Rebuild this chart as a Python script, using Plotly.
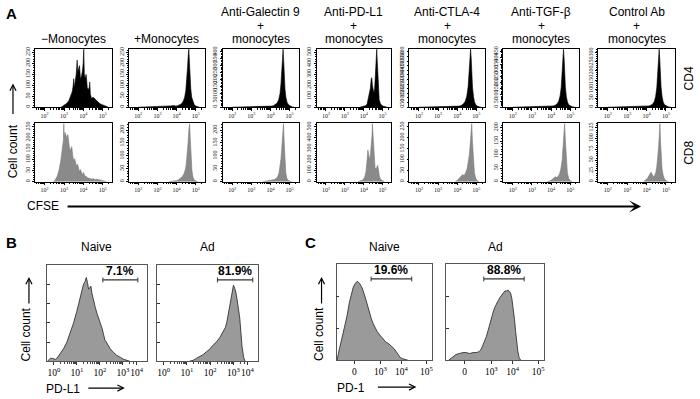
import math
import plotly.graph_objects as go

# ---------------- Panel A : CFSE dilution (x = log10 CFSE, y = cell count) ----------------
A_TITLES = [["\u2212Monocytes"], ["+Monocytes"], ["Anti-Galectin 9", "+", "monocytes"],
            ["Anti-PD-L1", "+", "monocytes"], ["Anti-CTLA-4", "+", "monocytes"],
            ["Anti-TGF-\u03b2", "+", "monocytes"], ["Control Ab", "+", "monocytes"]]
A_ROW_LABELS = ["CD4", "CD8"]
A_XTICKS = [2, 3, 4, 5]
A_XTICKTEXT = ["10<sup>2</sup>", "10<sup>3</sup>", "10<sup>4</sup>", "10<sup>5</sup>"]

# CD4 row
CD4_NOMONO_X = [2.85, 2.95, 3.05, 3.15, 3.25, 3.35, 3.42, 3.47, 3.5, 3.53, 3.58, 3.63, 3.68, 3.71, 3.75, 3.8, 3.85, 3.9, 3.95, 3.99, 4.02, 4.05, 4.1, 4.14, 4.17, 4.2, 4.25, 4.3, 4.33, 4.36, 4.42, 4.5, 4.55, 4.62, 4.7, 4.8, 4.9, 5.0, 5.1, 5.2, 5.3]
CD4_NOMONO_Y = [0, 5, 10, 18, 30, 50, 70, 95, 130, 90, 120, 150, 215, 160, 175, 190, 130, 140, 165, 200, 265, 150, 130, 150, 125, 90, 80, 90, 115, 60, 40, 45, 42, 35, 28, 20, 14, 10, 6, 3, 0]
CD4_MONO_X = [2.0, 2.5, 3.0, 3.3, 3.5, 3.7, 3.85, 3.95, 4.05, 4.15, 4.25, 4.35, 4.42, 4.48, 4.53, 4.57, 4.61, 4.64, 4.67, 4.7, 4.74, 4.79, 4.85, 4.92, 5.0, 5.1, 5.2]
CD4_MONO_Y = [0, 1, 2, 3, 4, 6, 8, 5, 7, 10, 15, 28, 45, 75, 120, 180, 240, 265, 210, 140, 85, 45, 25, 12, 5, 2, 0]
CD4_GAL9_X = [2.0, 2.6, 3.0, 3.4, 3.7, 3.9, 4.05, 4.15, 4.25, 4.35, 4.43, 4.5, 4.55, 4.6, 4.63, 4.66, 4.69, 4.72, 4.76, 4.81, 4.87, 4.95, 5.05, 5.15, 5.25]
CD4_GAL9_Y = [0, 1, 2, 3, 4, 6, 8, 10, 18, 30, 55, 100, 170, 280, 380, 420, 340, 220, 130, 70, 35, 16, 7, 2, 0]
CD4_PDL1_X = [3.8, 3.95, 4.05, 4.12, 4.18, 4.25, 4.3, 4.35, 4.4, 4.43, 4.46, 4.5, 4.54, 4.58, 4.62, 4.66, 4.69, 4.72, 4.75, 4.78, 4.82, 4.88, 4.95, 5.05, 5.15, 5.25]
CD4_PDL1_Y = [0, 4, 8, 15, 30, 80, 130, 170, 260, 270, 200, 150, 130, 170, 300, 440, 530, 420, 260, 140, 70, 35, 18, 8, 3, 0]
CD4_CTLA4_X = [2.0, 2.6, 3.1, 3.5, 3.8, 4.0, 4.12, 4.22, 4.32, 4.42, 4.5, 4.57, 4.62, 4.66, 4.7, 4.73, 4.76, 4.8, 4.85, 4.9, 4.97, 5.05, 5.15, 5.25]
CD4_CTLA4_Y = [0, 2, 3, 4, 6, 8, 12, 20, 35, 65, 120, 220, 360, 500, 630, 540, 380, 220, 120, 60, 28, 12, 4, 0]
CD4_TGFB_X = [2.0, 2.6, 3.1, 3.5, 3.8, 4.0, 4.12, 4.22, 4.32, 4.4, 4.47, 4.53, 4.58, 4.62, 4.65, 4.68, 4.71, 4.75, 4.8, 4.86, 4.93, 5.02, 5.12, 5.25]
CD4_TGFB_Y = [0, 2, 3, 4, 5, 7, 10, 16, 28, 50, 90, 160, 260, 380, 470, 400, 280, 160, 85, 40, 18, 8, 3, 0]
CD4_CTRL_X = [2.0, 2.6, 3.1, 3.5, 3.8, 4.0, 4.12, 4.22, 4.32, 4.4, 4.47, 4.53, 4.58, 4.62, 4.65, 4.68, 4.71, 4.75, 4.8, 4.86, 4.93, 5.02, 5.12, 5.25]
CD4_CTRL_Y = [0, 1, 2, 3, 4, 5, 7, 11, 18, 32, 60, 110, 180, 260, 320, 270, 190, 110, 60, 28, 13, 6, 2, 0]

# CD8 row
CD8_NOMONO_X = [2.45, 2.55, 2.65, 2.75, 2.84, 2.92, 2.97, 2.99, 3.01, 3.05, 3.1, 3.15, 3.2, 3.25, 3.3, 3.35, 3.4, 3.45, 3.5, 3.55, 3.6, 3.65, 3.7, 3.75, 3.8, 3.85, 3.9, 3.95, 4.0, 4.05, 4.1, 4.15, 4.2, 4.3, 4.4, 4.5, 4.6, 4.7, 4.8, 4.9, 5.0, 5.1, 5.2]
CD8_NOMONO_Y = [0, 8, 25, 55, 100, 150, 190, 265, 200, 225, 210, 200, 215, 175, 140, 150, 160, 120, 95, 105, 85, 70, 80, 65, 45, 55, 38, 30, 42, 30, 22, 25, 18, 15, 12, 13, 10, 11, 9, 7, 5, 2, 0]
CD8_MONO_X = [3.6, 3.85, 4.0, 4.1, 4.2, 4.3, 4.38, 4.45, 4.5, 4.55, 4.6, 4.64, 4.68, 4.72, 4.76, 4.8, 4.85, 4.9, 5.0, 5.1]
CD8_MONO_Y = [0, 2, 4, 7, 12, 20, 30, 45, 65, 100, 150, 200, 225, 160, 90, 45, 20, 8, 3, 0]
CD8_GAL9_X = [3.6, 3.85, 4.0, 4.1, 4.2, 4.3, 4.38, 4.45, 4.5, 4.55, 4.6, 4.64, 4.68, 4.72, 4.76, 4.8, 4.85, 4.9, 5.0, 5.1]
CD8_GAL9_Y = [0, 3, 6, 8, 8, 12, 20, 35, 55, 90, 140, 195, 225, 150, 80, 35, 15, 6, 2, 0]
CD8_PDL1_X = [3.7, 3.85, 3.95, 4.05, 4.12, 4.18, 4.22, 4.26, 4.3, 4.35, 4.4, 4.44, 4.46, 4.49, 4.52, 4.56, 4.6, 4.65, 4.7, 4.74, 4.78, 4.83, 4.9, 5.0, 5.1]
CD8_PDL1_Y = [0, 5, 15, 40, 90, 200, 290, 250, 200, 240, 330, 420, 530, 440, 300, 180, 130, 110, 140, 150, 110, 50, 20, 6, 0]
CD8_CTLA4_X = [3.9, 4.0, 4.1, 4.2, 4.28, 4.36, 4.44, 4.52, 4.58, 4.63, 4.68, 4.72, 4.76, 4.8, 4.85, 4.9, 4.97, 5.05, 5.15]
CD8_CTLA4_Y = [0, 5, 15, 25, 32, 28, 40, 60, 90, 120, 170, 230, 265, 180, 90, 40, 15, 4, 0]
CD8_TGFB_X = [3.8, 3.95, 4.05, 4.15, 4.23, 4.3, 4.38, 4.45, 4.52, 4.58, 4.63, 4.67, 4.71, 4.75, 4.8, 4.85, 4.92, 5.0, 5.1]
CD8_TGFB_Y = [0, 3, 8, 14, 18, 15, 20, 30, 50, 80, 130, 180, 215, 150, 80, 35, 12, 3, 0]
CD8_CTRL_X = [3.85, 3.95, 4.05, 4.15, 4.23, 4.3, 4.36, 4.42, 4.48, 4.53, 4.58, 4.62, 4.66, 4.69, 4.72, 4.76, 4.8, 4.86, 4.93, 5.02, 5.12]
CD8_CTRL_Y = [0, 3, 8, 16, 22, 16, 12, 14, 22, 35, 55, 80, 110, 135, 95, 55, 30, 14, 6, 2, 0]

CD4_YTICKS = [[0, 50, 100, 150, 200, 250], [0, 50, 100, 150, 200, 250],
              [0, 50, 100, 150, 200, 250, 300, 350, 400], [0, 100, 200, 300, 400, 500],
              [0, 50, 100, 150, 200, 250, 300, 350, 400, 450, 500, 550, 600],
              [0, 50, 100, 150, 200, 250, 300, 350, 400, 450], [0, 50, 100, 150, 200, 250, 300]]
CD8_YTICKS = [[0, 50, 100, 150, 200, 250], [0, 50, 100, 150, 200], [0, 50, 100, 150, 200],
              [0, 100, 200, 300, 400, 500], [0, 50, 100, 150, 200, 250], [0, 50, 100, 150, 200],
              [0, 25, 50, 75, 100, 125]]

# ---------------- Panel B : PD-L1 on monocytes (x in decades, y = % of max) ----------------
B_TITLES = ["Naive", "Ad"]
B_XTICKS = [0, 1, 2, 3, 3.6]
B_XTICKTEXT = ["10<sup>0</sup>", "10<sup>1</sup>", "10<sup>2</sup>", "10<sup>3</sup>", "10<sup>4</sup>"]
B_NAIVE_X = [-0.28, -0.15, -0.05, 0.06, 0.13, 0.28, 0.42, 0.57, 0.72, 0.86, 1.0, 1.15, 1.29, 1.36, 1.41, 1.46, 1.51, 1.56, 1.61, 1.66, 1.73, 1.8, 1.87, 1.95, 2.02, 2.1, 2.16, 2.22, 2.28, 2.35, 2.45, 2.6, 2.74, 2.9, 3.03, 3.18, 3.3]
B_NAIVE_Y = [0, 3, 3, 2, 3, 8, 13, 20, 30, 40, 52, 65, 80, 83, 87, 82, 75, 76, 78, 70, 62, 56, 50, 45, 40, 34, 28, 22, 20, 17, 13, 9, 6, 4, 2, 1, 0]
B_AD_X = [1.1, 1.27, 1.4, 1.55, 1.7, 1.84, 1.95, 2.06, 2.2, 2.3, 2.42, 2.55, 2.65, 2.71, 2.78, 2.86, 2.93, 3.0, 3.05, 3.1, 3.15, 3.21, 3.27, 3.32, 3.37, 3.44, 3.5]
B_AD_Y = [0, 1, 3, 5, 7, 10, 12, 15, 18, 21, 25, 30, 35, 40, 50, 60, 70, 79, 76, 72, 65, 57, 45, 30, 15, 4, 0]
B_PCT = ["7.1%", "81.9%"]
B_GATES = [(2.13, 3.65), (2.31, 3.83)]

# ---------------- Panel C : PD-1 (biexponential display units) ----------------
C_TITLES = ["Naive", "Ad"]
C_XTICKS = [0, 1, 1.8, 2.75]
C_XTICKTEXT = ["0", "10<sup>3</sup>", "10<sup>4</sup>", "10<sup>5</sup>"]
C_NAIVE_X = [-0.66, -0.64, -0.57, -0.48, -0.38, -0.28, -0.19, -0.1, -0.04, 0.04, 0.11, 0.2, 0.3, 0.41, 0.5, 0.57, 0.65, 0.72, 0.8, 0.87, 0.98, 1.09, 1.2, 1.32, 1.45, 1.52, 1.6, 1.68, 1.75, 1.85, 1.95, 2.05]
C_NAIVE_Y = [0, 3, 12, 22, 33, 46, 60, 70, 76, 80, 82, 80, 75, 66, 57, 50, 43, 38, 33, 30, 26, 22, 19, 17, 14, 12, 9, 6, 3, 1.5, 0.5, 0]
C_AD_X = [-0.6, -0.5, -0.4, -0.32, -0.2, -0.06, 0.06, 0.19, 0.32, 0.44, 0.55, 0.63, 0.72, 0.82, 0.92, 1.01, 1.07, 1.13, 1.2, 1.26, 1.32, 1.38, 1.45, 1.51, 1.57, 1.63, 1.68, 1.72, 1.77, 1.82, 1.87, 1.91, 1.95, 1.99, 2.04, 2.1]
C_AD_Y = [0, 2, 4, 6, 7, 8, 8, 7, 8, 8, 9, 12, 18, 25, 35, 45, 50, 55, 58, 62, 65, 68, 70, 72, 72, 73, 71, 70, 64, 55, 42, 30, 18, 10, 3, 0]
C_PCT = ["19.6%", "88.8%"]
C_GATES = [(0.64, 2.19), (0.72, 2.23)]

# ---------------- figure ----------------
W, H = 700, 399
FONT = "Liberation Sans, Arial, Helvetica, sans-serif"
SERIF = "Liberation Serif, Times New Roman, serif"


def px(x):
    return x / W


def py(y):
    return 1 - y / H


fig = go.Figure()
layout = dict(width=W, height=H, margin=dict(l=0, r=0, t=0, b=0), autosize=False,
              paper_bgcolor="white", plot_bgcolor="white", showlegend=False,
              font=dict(family=FONT, color="black"))
annotations = []
shapes = []

A_BOX_X = [(35, 112), (129, 205), (223, 299), (317, 392), (410, 486), (504, 580), (599, 676)]
A_ROW_Y = [(47, 106), (122, 181)]
A_ROWS = [
    list(zip([CD4_NOMONO_X, CD4_MONO_X, CD4_GAL9_X, CD4_PDL1_X, CD4_CTLA4_X, CD4_TGFB_X, CD4_CTRL_X],
             [CD4_NOMONO_Y, CD4_MONO_Y, CD4_GAL9_Y, CD4_PDL1_Y, CD4_CTLA4_Y, CD4_TGFB_Y, CD4_CTRL_Y],
             CD4_YTICKS)),
    list(zip([CD8_NOMONO_X, CD8_MONO_X, CD8_GAL9_X, CD8_PDL1_X, CD8_CTLA4_X, CD8_TGFB_X, CD8_CTRL_X],
             [CD8_NOMONO_Y, CD8_MONO_Y, CD8_GAL9_Y, CD8_PDL1_Y, CD8_CTLA4_Y, CD8_TGFB_Y, CD8_CTRL_Y],
             CD8_YTICKS)),
]
A_MINOR = [math.log10(k * 10 ** d) for d in range(1, 6) for k in range(2, 10)
           if 1.5 < math.log10(k * 10 ** d) < 5.47]

k = 0
for r, row in enumerate(A_ROWS):
    top, bot = A_ROW_Y[r]
    fill = "black" if r == 0 else "#8a8a8a"
    lcol = "black" if r == 0 else "#7c7c7c"
    for c, (xs, ys, yt) in enumerate(row):
        k += 1
        sfx = "" if k == 1 else str(k)
        l, rr = A_BOX_X[c]
        fig.add_trace(go.Scatter(x=xs, y=ys, mode="lines", fill="tozeroy", fillcolor=fill,
                                 line=dict(color=lcol, width=0.6), xaxis="x" + sfx, yaxis="y" + sfx,
                                 hoverinfo="skip"))
        step = yt[1] - yt[0]
        layout["xaxis" + sfx] = dict(domain=[px(l), px(rr)], anchor="y" + sfx, range=[1.5, 5.47],
                                     tickmode="array", tickvals=A_XTICKS, ticktext=A_XTICKTEXT, tickangle=0,
                                     ticks="outside", ticklen=2.5, tickwidth=0.6, tickcolor="black",
                                     tickfont=dict(size=6, family=SERIF, color="#222"), showline=True, mirror=True,
                                     linecolor="black", linewidth=0.8, showgrid=False, zeroline=False,
                                     minor=dict(tickmode="array", tickvals=A_MINOR, ticks="outside",
                                                ticklen=1.5, tickwidth=0.5, tickcolor="black"))
        layout["yaxis" + sfx] = dict(domain=[py(bot), py(top)], anchor="x" + sfx,
                                     range=[0, max(ys) * 1.01], tickmode="array", tickvals=yt,
                                     ticktext=[str(v) for v in yt], tickangle=-90,
                                     ticks="outside", ticklen=2, tickwidth=0.6, tickcolor="black",
                                     tickfont=dict(size=6, family=SERIF, color="#222"), showline=True, mirror=True,
                                     linecolor="black", linewidth=0.8, showgrid=False, zeroline=False,
                                     minor=dict(dtick=step / 5, tick0=0, ticks="outside", ticklen=1,
                                                tickwidth=0.4, tickcolor="black"))

# titles for A
A_CENTERS = [(a + b) / 2 for a, b in A_BOX_X]
for c, lines in enumerate(A_TITLES):
    ys_ = [37] if len(lines) == 1 else [10, 24, 37]
    for t, yy in zip(lines, ys_):
        annotations.append(dict(text=t, x=px(A_CENTERS[c]), y=py(yy), xref="paper", yref="paper",
                                showarrow=False, xanchor="center", yanchor="middle",
                                font=dict(size=12, family=FONT)))
for t, yy in zip(A_ROW_LABELS, [77, 152]):
    annotations.append(dict(text=t, x=px(690), y=py(yy), xref="paper", yref="paper", showarrow=False,
                            textangle=-90, xanchor="center", yanchor="middle", font=dict(size=12)))

# panels B and C
BC = [
    (B_NAIVE_X, B_NAIVE_Y, (47, 147), (265, 362), [-0.3, 4.04], B_XTICKS, B_XTICKTEXT, [0, 20, 40, 60, 80], B_TITLES[0], B_PCT[0], B_GATES[0]),
    (B_AD_X, B_AD_Y, (157, 258), (265, 362), [-0.3, 4.04], B_XTICKS, B_XTICKTEXT, [0, 20, 40, 60, 80], B_TITLES[1], B_PCT[1], B_GATES[1]),
    (C_NAIVE_X, C_NAIVE_Y, (337, 433), (264, 361), [-0.68, 2.98], C_XTICKS, C_XTICKTEXT, [0, 33.3, 66.7], C_TITLES[0], C_PCT[0], C_GATES[0]),
    (C_AD_X, C_AD_Y, (447, 545), (264, 361), [-0.68, 2.98], C_XTICKS, C_XTICKTEXT, [0, 33.3, 66.7], C_TITLES[1], C_PCT[1], C_GATES[1]),
]
B_MINOR = [math.log10(m) + d for d in range(0, 4) for m in range(2, 10) if math.log10(m) + d < 3.55]
for i, (xs, ys, (l, rr), (top, bot), xr, tv, tt, ytv, title, pct, gate) in enumerate(BC):
    k += 1
    sfx = str(k)
    fig.add_trace(go.Scatter(x=xs, y=ys, mode="lines", fill="tozeroy", fillcolor="#9a9a9a",
                             line=dict(color="#333333", width=0.9), xaxis="x" + sfx, yaxis="y" + sfx,
                             hoverinfo="skip"))
    minor = dict(tickmode="array", tickvals=B_MINOR, ticks="outside", ticklen=1.5, tickwidth=0.5,
                 tickcolor="#444") if i < 2 else dict(ticks="")
    layout["xaxis" + sfx] = dict(domain=[px(l), px(rr)], anchor="y" + sfx, range=xr, tickmode="array",
                                 tickvals=tv, ticktext=tt, tickangle=0, ticks="outside", ticklen=2.5,
                                 tickwidth=0.6, tickcolor="#333", tickfont=dict(size=9.5, family=SERIF),
                                 showline=True, mirror=True, linecolor="#555", linewidth=0.8,
                                 showgrid=False, zeroline=False, minor=minor)
    layout["yaxis" + sfx] = dict(domain=[py(bot), py(top)], anchor="x" + sfx, range=[0, 100],
                                 tickmode="array", tickvals=ytv, showticklabels=False, ticks="inside",
                                 ticklen=3, tickwidth=0.6, tickcolor="#333", showline=True, mirror=True,
                                 linecolor="#555", linewidth=0.8, showgrid=False, zeroline=False)
    annotations.append(dict(text=title, x=px((l + rr) / 2), y=py(247), xref="paper", yref="paper",
                            showarrow=False, xanchor="center", yanchor="middle", font=dict(size=12)))
    # gate bracket
    g0, g1 = gate
    yb = 0.845
    shapes.append(dict(type="line", xref="x" + sfx, yref="y" + sfx + " domain", x0=g0, x1=g1, y0=yb, y1=yb,
                       line=dict(color="#333", width=1.2)))
    for gx in (g0, g1):
        shapes.append(dict(type="line", xref="x" + sfx, yref="y" + sfx + " domain", x0=gx, x1=gx,
                           y0=yb - 0.025, y1=yb + 0.025, line=dict(color="#333", width=1)))
    annotations.append(dict(text="<b>" + pct + "</b>", x=(g0 + g1) / 2, y=0.935, xref="x" + sfx,
                            yref="y" + sfx + " domain", showarrow=False, xanchor="center",
                            yanchor="middle", font=dict(size=12)))

# panel letters and axis captions
for t, x, y in [("A", 12, 12), ("B", 12, 242), ("C", 311, 242)]:
    annotations.append(dict(text="<b>" + t + "</b>", x=px(x), y=py(y), xref="paper", yref="paper",
                            showarrow=False, xanchor="center", yanchor="middle", font=dict(size=15)))
for t, x, y, ang in [("Cell count", 12.5, 150, -90), ("CFSE", 43, 206, 0), ("Cell count", 27, 335, -90),
                     ("PD-L1", 63, 390, 0), ("Cell count", 320, 335, -90), ("PD-1", 352, 389, 0)]:
    annotations.append(dict(text=t, x=px(x), y=py(y), xref="paper", yref="paper", showarrow=False,
                            textangle=ang, xanchor="center", yanchor="middle", font=dict(size=12)))

# arrows (head position, tail offset in px)
for hx, hy, ax, ay, head, wdt in [(642, 206, -575, 0, 3, 2), (13, 82, 0, 32, 5, 1.2),
                                  (29, 277, 0, 28, 5, 1.2), (322, 277, 0, 28, 5, 1.2),
                                  (125, 389, -38, 0, 5, 1.2), (417, 388, -40, 0, 5, 1.2)]:
    annotations.append(dict(text="", x=px(hx), y=py(hy), xref="paper", yref="paper", showarrow=True,
                            ax=ax, ay=ay, axref="pixel", ayref="pixel", arrowhead=head, arrowsize=1,
                            arrowwidth=wdt, arrowcolor="black", standoff=0, startstandoff=0))

layout["annotations"] = annotations
layout["shapes"] = shapes
fig.update_layout(**layout)
fig.write_html("out.html")
